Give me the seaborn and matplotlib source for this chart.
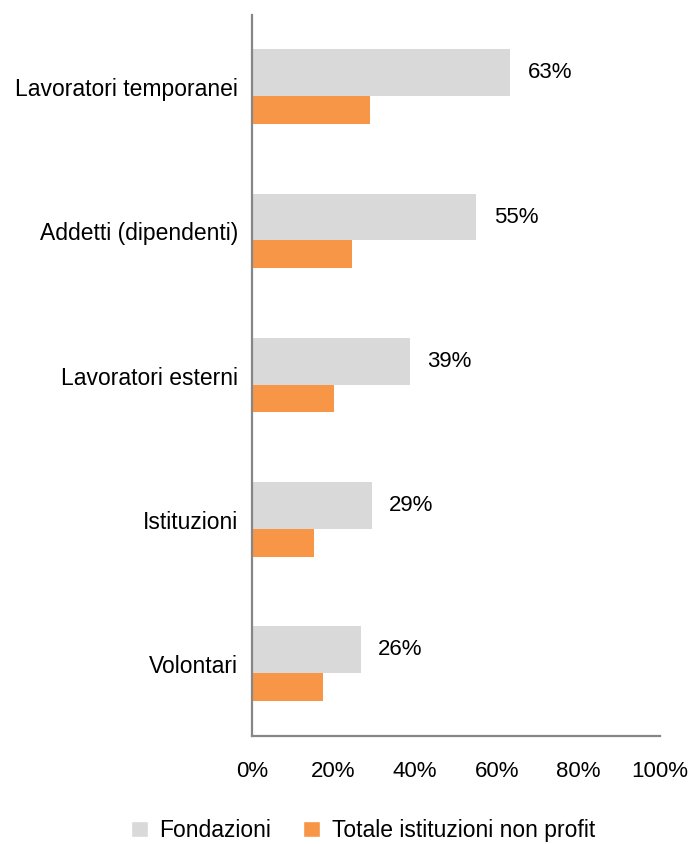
import pandas as pd
import seaborn as sns
import matplotlib.pyplot as plt
from matplotlib.patches import Patch

categorie = ["Lavoratori temporanei", "Addetti (dipendenti)", "Lavoratori esterni",
             "Istituzioni", "Volontari"]
fondazioni = [63.2, 54.9, 38.7, 29.3, 26.6]
totale_np = [28.9, 24.5, 20.1, 15.3, 17.3]
etichette = ["63%", "55%", "39%", "29%", "26%"]
serie = ["Fondazioni", "Totale istituzioni non profit"]
colori = ["#D9D9D9", "#F79646"]

df = pd.DataFrame({
    "cat": categorie * 2,
    "val": fondazioni + totale_np,
    "serie": [serie[0]] * 5 + [serie[1]] * 5,
})

sns.set_style("white")
plt.rcParams['font.family'] = ['Liberation Sans', 'DejaVu Sans']
plt.rcParams['text.color'] = 'black'

fig = plt.figure(figsize=(6.91, 8.44), dpi=100)
ax = fig.add_axes([0.3647, 0.128, 0.5905, 0.854])

sns.barplot(data=df, x="val", y="cat", hue="serie", palette=colori, saturation=1,
            orient="h", width=0.526, dodge=True, legend=False, linewidth=0, ax=ax)

# gray bar a bit thicker than the orange one, as in the original
for p in ax.patches:
    if abs(p.get_facecolor()[0] - 0xD9 / 255) < 0.01:
        p.set_height(0.325)
    else:
        p.set_y(p.get_y() + 0.062)
        p.set_height(0.194)

for i, (v, lab) in enumerate(zip(fondazioni, etichette)):
    ax.text(v + 4.3, i - 0.1, lab, va="center", ha="left", fontsize=16, color="black")

ax.set_xlim(0, 100)
ax.set_ylim(4.5, -0.5)
ax.set_xticks([0, 20, 40, 60, 80, 100])
ax.set_xticklabels([f"{t}%" for t in [0, 20, 40, 60, 80, 100]])
ax.set_xlabel("")
ax.set_ylabel("")
ax.tick_params(axis="x", length=0, pad=18, labelsize=16, labelcolor="black")
ax.tick_params(axis="y", length=0, pad=10, labelsize=16.5, labelcolor="black")

for s in ["top", "right"]:
    ax.spines[s].set_visible(False)
for s in ["left", "bottom"]:
    ax.spines[s].set_color("#868686")
    ax.spines[s].set_linewidth(1.6)

handles = [Patch(facecolor=c, label=l) for c, l in zip(colori, serie)]
leg = fig.legend(handles=handles, loc="lower center", bbox_to_anchor=(0.525, -0.022),
                 ncol=2, frameon=False, fontsize=16.5, handlelength=0.75, handleheight=0.75,
                 columnspacing=1.4, handletextpad=0.5)
for t in leg.get_texts():
    t.set_color("black")

fig.savefig("out.png", dpi=100)
